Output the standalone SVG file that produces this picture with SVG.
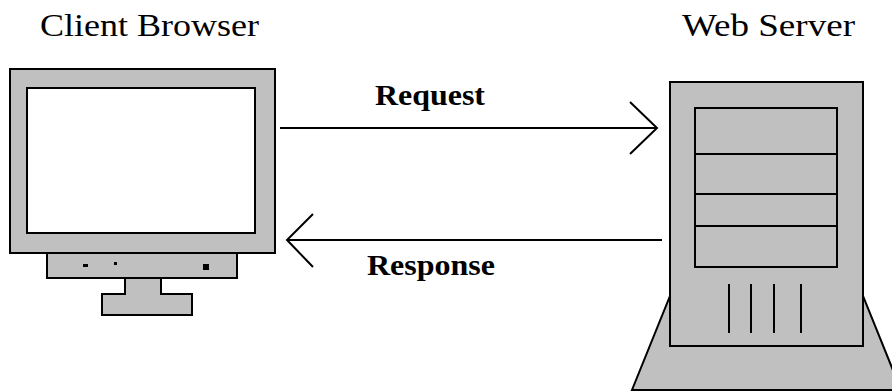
<svg xmlns="http://www.w3.org/2000/svg" width="892" height="391" viewBox="0 0 892 391">
<style>
.g{fill:#c0c0c0;stroke:#000;stroke-width:2}
.w{fill:#fff;stroke:#000;stroke-width:2}
.l{fill:none;stroke:#000;stroke-width:2}
.t{font-family:"Liberation Serif","Times New Roman",serif;font-size:31px;fill:#000}
.b{font-family:"Liberation Serif","Times New Roman",serif;font-size:29px;font-weight:bold;fill:#000}
</style>
<rect width="892" height="391" fill="#fff"/>
<g id="client">
<text class="t" x="40" y="36" textLength="219" lengthAdjust="spacingAndGlyphs">Client Browser</text>
<polygon class="g" points="125,278 125,294 102,294 102,315 192,315 192,294 161,294 161,278"/>
<rect class="g" x="47" y="253" width="190" height="25"/>
<rect class="g" x="10" y="69" width="265" height="184"/>
<rect class="w" x="27" y="88" width="228" height="145"/>
<rect x="83" y="264" width="5" height="3" fill="#000"/>
<rect x="114" y="262" width="3" height="3" fill="#000"/>
<rect x="203" y="264" width="6" height="6" fill="#000"/>
</g>
<g id="server">
<text class="t" x="682" y="36" textLength="173" lengthAdjust="spacingAndGlyphs">Web Server</text>
<polygon class="g" points="670,296 863,296 901,390 632,390"/>
<rect class="g" x="670" y="82" width="193" height="264"/>
<rect class="g" x="695" y="108" width="142" height="159"/>
<path class="l" d="M695,154H837M695,194H837M695,226H837M729,284V333M751,284V333M774,284V333M801,284V333"/>
</g>
<g id="connectors">
<path class="l" d="M280,128H657M630,102L657,128L630,154"/>
<text class="b" x="375" y="105" textLength="110" lengthAdjust="spacingAndGlyphs">Request</text>
<path class="l" d="M662,240H287M313,214L287,240L313,267"/>
<text class="b" x="367" y="275" textLength="128" lengthAdjust="spacingAndGlyphs">Response</text>
</g>
</svg>
